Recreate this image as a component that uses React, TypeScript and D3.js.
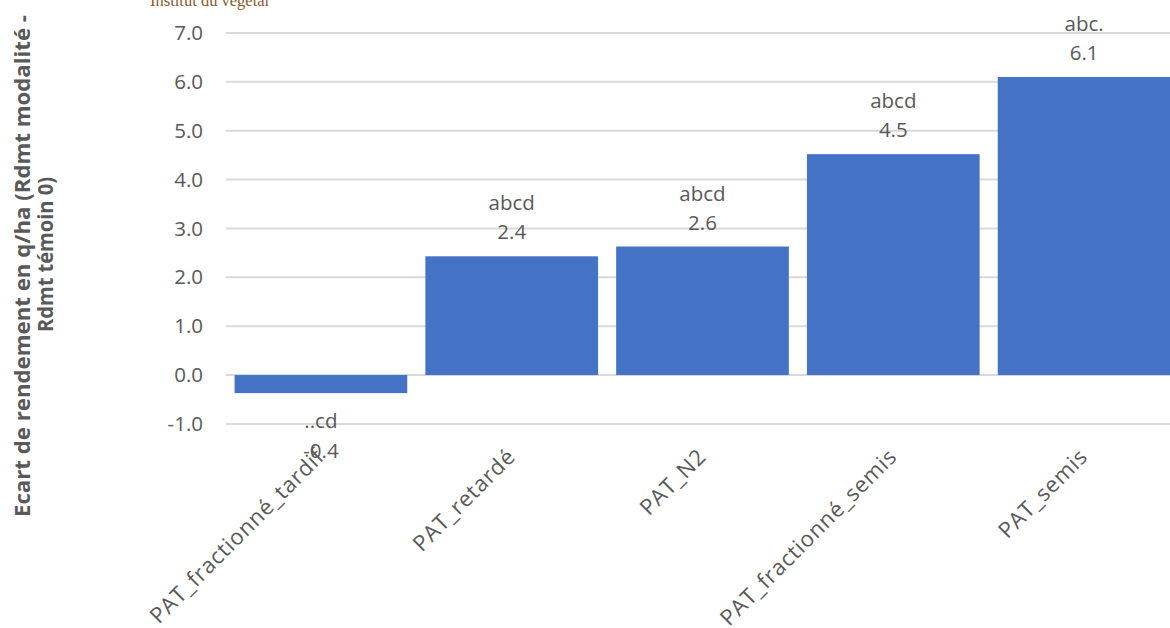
import React, { useLayoutEffect, useRef } from "react";
import * as d3 from "d3";

const categories = [
  "PAT_fractionné_tardif",
  "PAT_retardé",
  "PAT_N2",
  "PAT_fractionné_semis",
  "PAT_semis",
];
const values = [-0.37, 2.43, 2.63, 4.52, 6.1];
const valueLabels = ["-0.4", "2.4", "2.6", "4.5", "6.1"];
const groupLetters = ["..cd", "abcd", "abcd", "abcd", "abc."];
const yTicks = [-1, 0, 1, 2, 3, 4, 5, 6, 7];

const W = 1170;
const H = 628;
const FONT = "'Open Sans', 'Noto Sans', sans-serif";
const GRAY = "#595959";
const LABEL_Y = 458;
const LABEL_MIN_X = 150;

export default function App() {
  const labRef = useRef<SVGGElement>(null);
  const x = d3
    .scaleBand<string>()
    .domain(categories)
    .range([226, 1179])
    .paddingInner(0.095)
    .paddingOuter(0.045);
  const y = d3.scaleLinear().domain([-1, 7]).range([423.9, 33]);

  // Keep rotated category labels inside the chart area (Excel-like shift)
  useLayoutEffect(() => {
    if (!labRef.current) return;
    d3.select(labRef.current)
      .selectAll<SVGTextElement, unknown>("text")
      .each(function () {
        const el = this;
        const ex = +(el.getAttribute("data-x") || 0);
        const len = el.getComputedTextLength();
        const startX = ex - len * Math.SQRT1_2 - 8;
        const shift = startX < LABEL_MIN_X ? LABEL_MIN_X - startX : 0;
        el.setAttribute(
          "transform",
          `translate(${ex + shift},${LABEL_Y}) rotate(-45)`
        );
      });
  }, []);

  return (
    <div style={{ position: "absolute", left: 0, top: 0 }}>
      <svg width={W} height={H} style={{ display: "block", background: "#fff" }}>
        <text
          x={150}
          y={6}
          fontFamily="'Liberation Serif', serif"
          fontSize={16.5}
          fill="#8a5a2b"
        >
          Institut du végétal
        </text>
        {yTicks.map((t) => (
          <g key={t}>
            <line
              x1={226}
              x2={W}
              y1={y(t)}
              y2={y(t)}
              stroke="#d9d9d9"
              strokeWidth={2}
            />
            <text
              x={203}
              y={y(t)}
              dy="0.35em"
              textAnchor="end"
              fontFamily={FONT}
              fontSize={20.5}
              fill={GRAY}
            >
              {t.toFixed(1)}
            </text>
          </g>
        ))}
        {categories.map((c, i) => {
          const v = values[i];
          const x0 = x(c)!;
          const bw = x.bandwidth();
          const top = y(Math.max(0, v));
          const bottom = y(Math.min(0, v));
          const cx = x0 + bw / 2;
          const neg = v < 0;
          return (
            <g key={c}>
              <rect x={x0} y={top} width={bw} height={bottom - top} fill="#4472c4" />
              <text
                x={cx}
                y={neg ? bottom + 35 : top - 46}
                textAnchor="middle"
                fontFamily={FONT}
                fontSize={20.5}
                fill={GRAY}
              >
                {groupLetters[i]}
              </text>
              <text
                x={cx}
                y={neg ? bottom + 65 : top - 17}
                textAnchor="middle"
                fontFamily={FONT}
                fontSize={20.5}
                fill={GRAY}
              >
                {valueLabels[i]}
              </text>
            </g>
          );
        })}
        <g ref={labRef}>
          {categories.map((c) => {
            const ex = x(c)! + x.bandwidth() / 2 + 5;
            return (
              <text
                key={"lab" + c}
                data-x={ex}
                transform={`translate(${ex},${LABEL_Y}) rotate(-45)`}
                textAnchor="end"
                fontFamily={FONT}
                fontSize={22}
                letterSpacing={0.8}
                fill={GRAY}
              >
                {c}
              </text>
            );
          })}
        </g>
        <text
          transform="translate(30,517) rotate(-90)"
          fontFamily={FONT}
          fontSize={21.5}
          fontWeight={700}
          fill={GRAY}
          textLength={502}
          lengthAdjust="spacingAndGlyphs"
        >
          Ecart de rendement en q/ha (Rdmt modalité -
        </text>
        <text
          transform="translate(53,332) rotate(-90)"
          fontFamily={FONT}
          fontSize={21.5}
          fontWeight={700}
          fill={GRAY}
          textLength={155}
          lengthAdjust="spacingAndGlyphs"
        >
          Rdmt témoin 0)
        </text>
      </svg>
    </div>
  );
}
